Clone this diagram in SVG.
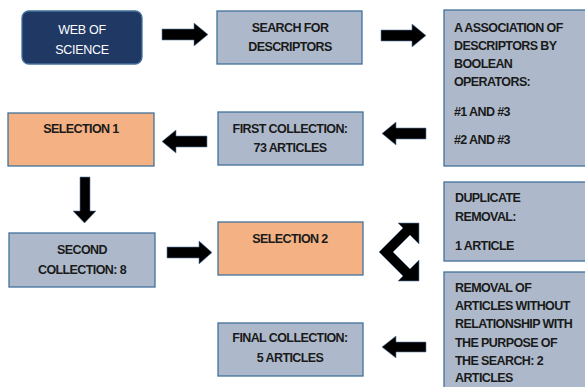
<svg xmlns="http://www.w3.org/2000/svg" width="585" height="387" viewBox="0 0 585 387">
<style>
.box{fill:#adb9ca;stroke:#41719c;stroke-width:1.3}
.org{fill:#f4b183;stroke:#41719c;stroke-width:1.3}
.navy{fill:#203864;stroke:#41719c;stroke-width:1.3}
.t{font-family:"Liberation Sans",Arial,sans-serif;font-size:12.5px;font-weight:bold;fill:#1a1a1a;letter-spacing:-0.6px}
.c{text-anchor:middle}
.w{fill:#ffffff;font-weight:normal;letter-spacing:-0.3px}
.arr{fill:#000000;stroke:#5b7fa8;stroke-width:1;stroke-opacity:0.6;stroke-linejoin:miter}
</style>
<rect width="585" height="387" fill="#ffffff"/>
<g id="web-of-science">
<rect class="navy" x="22" y="11" width="120" height="53" rx="7"/>
<text class="t c w" x="82" y="34">WEB OF</text>
<text class="t c w" x="82" y="54">SCIENCE</text>
</g>
<g id="search">
<rect class="box" x="217" y="11" width="145" height="53"/>
<text class="t c" x="290" y="32">SEARCH FOR</text>
<text class="t c" x="290" y="51">DESCRIPTORS</text>
</g>
<g id="association">
<rect class="box" x="444" y="10" width="145" height="156"/>
<text class="t" x="454" y="32">A ASSOCIATION OF</text>
<text class="t" x="454" y="50">DESCRIPTORS BY</text>
<text class="t" x="454" y="68">BOOLEAN</text>
<text class="t" x="454" y="86">OPERATORS:</text>
<text class="t" x="454" y="116">#1 AND #3</text>
<text class="t" x="454" y="144">#2 AND #3</text>
</g>
<g id="selection-1">
<rect class="org" x="8" y="113" width="146" height="53"/>
<text class="t c" x="81" y="133">SELECTION 1</text>
</g>
<g id="first-collection">
<rect class="box" x="218" y="112" width="145" height="53"/>
<text class="t c" x="290" y="133">FIRST COLLECTION:</text>
<text class="t c" x="290" y="152">73 ARTICLES</text>
</g>
<g id="second-collection">
<rect class="box" x="9" y="233" width="146" height="54"/>
<text class="t c" x="82" y="254">SECOND</text>
<text class="t c" x="82" y="274">COLLECTION: 8</text>
</g>
<g id="selection-2">
<rect class="org" x="218" y="222" width="145" height="53"/>
<text class="t c" x="290" y="243">SELECTION 2</text>
</g>
<g id="duplicate-removal">
<rect class="box" x="444" y="182" width="145" height="79"/>
<text class="t" x="455" y="202">DUPLICATE</text>
<text class="t" x="455" y="221">REMOVAL:</text>
<text class="t" x="455" y="250">1 ARTICLE</text>
</g>
<g id="removal-unrelated">
<rect class="box" x="444" y="272" width="145" height="120"/>
<text class="t" x="455" y="292">REMOVAL OF</text>
<text class="t" x="455" y="310">ARTICLES WITHOUT</text>
<text class="t" x="455" y="328">RELATIONSHIP WITH</text>
<text class="t" x="455" y="347">THE PURPOSE OF</text>
<text class="t" x="455" y="365">THE SEARCH: 2</text>
<text class="t" x="455" y="382">ARTICLES</text>
</g>
<g id="final-collection">
<rect class="box" x="218" y="323" width="145" height="53"/>
<text class="t c" x="290" y="342">FINAL COLLECTION:</text>
<text class="t c" x="290" y="362">5 ARTICLES</text>
</g>
<g id="connectors">
<polygon class="arr" points="162,29 194,29 194,23 208,34.5 194,46 194,40 162,40"/>
<polygon class="arr" points="381,30 412,30 412,24 426,35.5 412,47 412,41 381,41"/>
<polygon class="arr" points="426,128 396,128 396,122 382,133.5 396,145 396,139 426,139"/>
<polygon class="arr" points="207,136 176,136 176,130 162,141.5 176,153 176,147 207,147"/>
<polygon class="arr" points="80,177 90,177 90,211 96,211 84.5,223 73,211 80,211"/>
<polygon class="arr" points="167,247 199,247 199,241 212,252.5 199,264 199,258 167,258"/>
<polygon class="arr" points="426,342 396,342 396,336 382,347 396,358 396,352 426,352"/>
<polygon class="arr" points="379,252 403,228 398,223 419,223 419,244 410,235 393,252 410,269 419,260 419,281 398,281 403,276"/>
</g>
</svg>
